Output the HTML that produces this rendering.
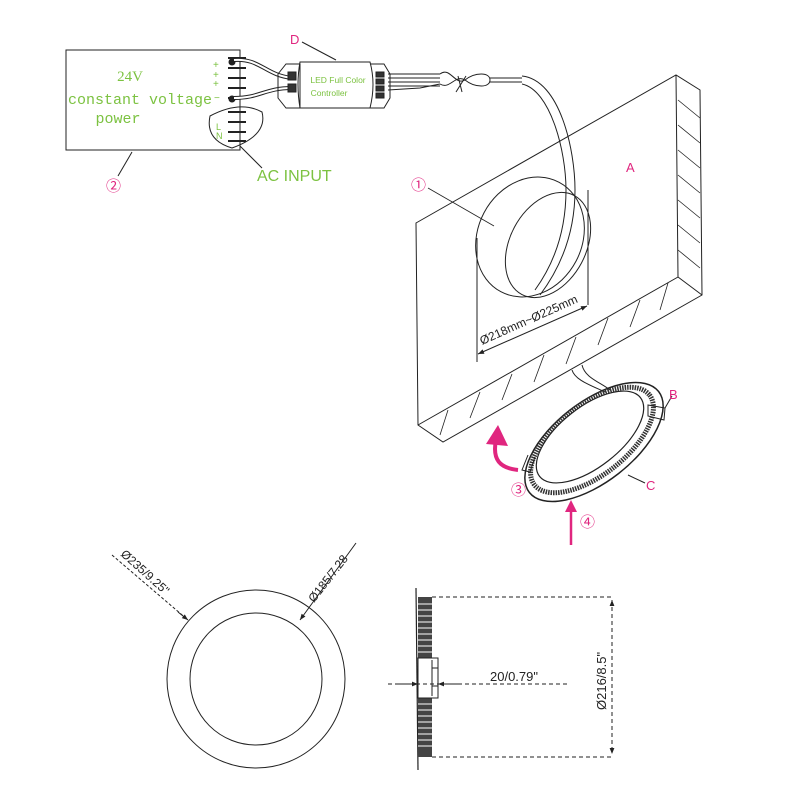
<!DOCTYPE html>
<html><head><meta charset="utf-8"><style>
html,body{margin:0;padding:0;background:#fff}
svg{display:block}
</style></head><body>
<svg width="800" height="800" viewBox="0 0 800 800" xmlns="http://www.w3.org/2000/svg" font-family="Liberation Sans,sans-serif">
<defs>
<marker id="ar" viewBox="0 0 10 10" refX="10" refY="5" markerWidth="8" markerHeight="6" orient="auto-start-reverse"><path d="M0,1 L10,5 L0,9 z" fill="#222"/></marker>
</defs>
<g fill="none" stroke="#222" stroke-width="1">
<rect x="66" y="50" width="174" height="100"/>
<g stroke-width="2">
<line x1="228" y1="58" x2="246" y2="58"/><line x1="228" y1="68" x2="246" y2="68"/>
<line x1="228" y1="78" x2="246" y2="78"/><line x1="228" y1="88" x2="246" y2="88"/>
<line x1="228" y1="98" x2="246" y2="98"/><line x1="228" y1="112" x2="246" y2="112"/>
<line x1="228" y1="122" x2="246" y2="122"/><line x1="228" y1="132" x2="246" y2="132"/>
<line x1="228" y1="141" x2="246" y2="141"/>
</g>
<circle cx="232" cy="62" r="3" fill="#222"/><circle cx="232" cy="99" r="3" fill="#222"/>
<path d="M210,116 Q240,100 262,112 Q268,135 232,148 Q205,140 210,116z"/>
<path d="M240,146 L262,168"/>
<path d="M132,152 L118,176"/>
<path d="M234,60 C260,58 265,75 292,78" stroke-width="4"/><path d="M234,60 C260,58 265,75 292,78" stroke="#fff" stroke-width="2"/>
<path d="M234,98 C260,98 265,88 292,88" stroke-width="4"/><path d="M234,98 C260,98 265,88 292,88" stroke="#fff" stroke-width="2"/>
<path d="M286,64 L300,64 L300,108 L286,108 L278,98 L278,74 Z"/>
<path d="M300,62 L370,62 Q376,84 370,108 L300,108 Q296,84 300,62Z"/>
<path d="M370,64 L384,64 L390,74 L390,98 L384,108 L370,108"/>
<rect x="288" y="72" width="8" height="8" fill="#333"/><rect x="288" y="84" width="8" height="8" fill="#333"/>
<rect x="376" y="72" width="8" height="5" fill="#333"/><rect x="376" y="79" width="8" height="5" fill="#333"/>
<rect x="376" y="86" width="8" height="5" fill="#333"/><rect x="376" y="93" width="8" height="5" fill="#333"/>
<path d="M302,42 L336,60"/>
<path d="M388,74 L440,74 M388,78 L440,78 M388,82 L440,82 M388,86 L440,86 M388,90 L420,88 L440,84"/>
<path d="M440,74 C450,66 455,86 465,80 C475,72 490,72 490,80 C490,88 475,88 465,80 C455,74 450,90 440,84"/>
<path d="M458,76 L462,92 M466,76 L456,92"/>
<path d="M490,78 L522,78 M490,82 L522,82"/>
<path d="M522,76 C560,80 575,150 575,190 C575,240 555,275 540,295"/>
<path d="M522,84 C550,90 566,150 566,190 C566,240 548,272 535,290"/>
<path d="M416,223 L676,75 L700,90 L702,295 L443,442 L418,425 Z"/>
<path d="M676,75 L678,277 L418,425"/>
<path d="M678,277 L702,295"/>
<g stroke-width="0.8">
<path d="M678,100 L700,118 M678,125 L700,143 M678,150 L700,168 M678,175 L700,193 M678,200 L700,218 M678,225 L700,243 M678,250 L700,268"/>
<path d="M448,410 L440,435 M480,392 L470,418 M512,374 L502,400 M544,355 L534,382 M576,337 L566,364 M608,318 L598,345 M640,300 L630,327 M668,283 L660,310"/>
</g>
<ellipse cx="530" cy="237" rx="52" ry="62" transform="rotate(28 530 237)"/>
<ellipse cx="548" cy="245" rx="38" ry="56" transform="rotate(28 548 245)"/>
<path d="M477,238 L477,362 M588,190 L588,305"/>
<path d="M478,354 L587,306" marker-start="url(#ar)" marker-end="url(#ar)"/>
<path d="M428,188 L494,226" stroke-width="0.8"/>
<path d="M572,370 C575,380 590,385 605,392" />
<path d="M582,365 C585,378 600,382 610,390" />
<ellipse cx="594" cy="442" rx="82" ry="40" transform="rotate(-38 594 442)" stroke-width="1.5"/>
<ellipse cx="592" cy="440" rx="73" ry="35" transform="rotate(-38 592 440)" stroke="#333" stroke-width="5" stroke-dasharray="1.5 1"/>
<ellipse cx="590" cy="437" rx="64" ry="30" transform="rotate(-38 590 437)" fill="#fff" stroke-width="1.2"/>
<path d="M648,405 L665,408 L664,420 L648,416Z"/>
<path d="M665,408 L672,396"/>
<path d="M528,455 L522,470 L530,472 L535,457"/>
<path d="M628,475 L645,483"/>
<circle cx="256" cy="679" r="89"/>
<circle cx="256" cy="679" r="66"/>
<path d="M112,555 L188,620" stroke-dasharray="3 2"/>
<path d="M178,612 L188,620" marker-end="url(#ar)"/>
<path d="M356,543 L300,620" marker-end="url(#ar)"/>
<path d="M416,588 L418,770" stroke-width="1.2"/>
<rect x="418" y="597" width="14" height="160" fill="#444" stroke="none"/>
<g stroke="#fff" stroke-width="1">
<path d="M418,604 h14 M418,610 h14 M418,616 h14 M418,622 h14 M418,628 h14 M418,634 h14 M418,640 h14 M418,646 h14 M418,652 h14 M418,704 h14 M418,710 h14 M418,716 h14 M418,722 h14 M418,728 h14 M418,734 h14 M418,740 h14 M418,746 h14"/>
</g>
<rect x="418" y="658" width="20" height="40" fill="#fff"/>
<path d="M432,660 L432,696 M438,668 L438,686 M432,668 h6 M432,686 h6"/>
<path d="M432,597 L612,597 M432,757 L612,757 M388,684 L570,684" stroke-dasharray="4 3"/>
<path d="M612,600 L612,754" stroke-dasharray="4 3" marker-start="url(#ar)" marker-end="url(#ar)"/>
<path d="M398,684 L418,684" marker-end="url(#ar)"/>
<path d="M458,684 L438,684" marker-end="url(#ar)"/>
</g>
<path d="M518,470 C500,468 492,460 496,440" fill="none" stroke="#e0267f" stroke-width="4"/>
<path d="M486,444 L498,425 L508,446 Z" fill="#e0267f"/>
<path d="M571,545 L571,510" stroke="#e0267f" stroke-width="2.5"/>
<path d="M565,512 L571,500 L577,512 Z" fill="#e0267f"/>
<g fill="#7cc241">
<text x="130" y="81" font-family="Liberation Serif,serif" font-size="15" text-anchor="middle">24V</text>
<text x="140" y="104" font-family="Liberation Mono,monospace" font-size="15" text-anchor="middle">constant voltage</text>
<text x="118" y="123" font-family="Liberation Mono,monospace" font-size="15" text-anchor="middle">power</text>
<text x="257" y="181" font-size="16">AC  INPUT</text>
<text x="338" y="83" font-size="8.5" text-anchor="middle">LED Full Color</text>
<text x="329" y="96" font-size="8.5" text-anchor="middle">Controller</text>
<text x="213" y="68" font-size="10">+</text><text x="213" y="78" font-size="10">+</text><text x="213" y="87" font-size="10">+</text>
<text x="214" y="101" font-size="10">−</text>
<text x="216" y="130" font-size="9">L</text><text x="216" y="139" font-size="9">N</text>
</g>
<g fill="#e0267f">
<text x="290" y="44" font-size="13">D</text>
<text x="626" y="172" font-size="13">A</text>
<text x="669" y="399" font-size="13">B</text>
<text x="646" y="490" font-size="13">C</text>
<g font-family="Noto Sans CJK SC,sans-serif" font-size="15">
<text x="106" y="191">②</text>
<text x="411" y="190">①</text>
<text x="511" y="495">③</text>
<text x="580" y="527">④</text>
</g>
</g>
<g fill="#222" font-size="12">
<text transform="translate(482,345) rotate(-24)">Ø218mm~Ø225mm</text>
<text transform="translate(120,555) rotate(42)">Ø235/9.25"</text>
<text transform="translate(314,603) rotate(-52)">Ø185/7.28</text>
<text x="490" y="681" font-size="13">20/0.79"</text>
<text font-size="13" transform="translate(606,710) rotate(-90)">Ø216/8.5"</text>
</g>
</svg>
</body></html>
